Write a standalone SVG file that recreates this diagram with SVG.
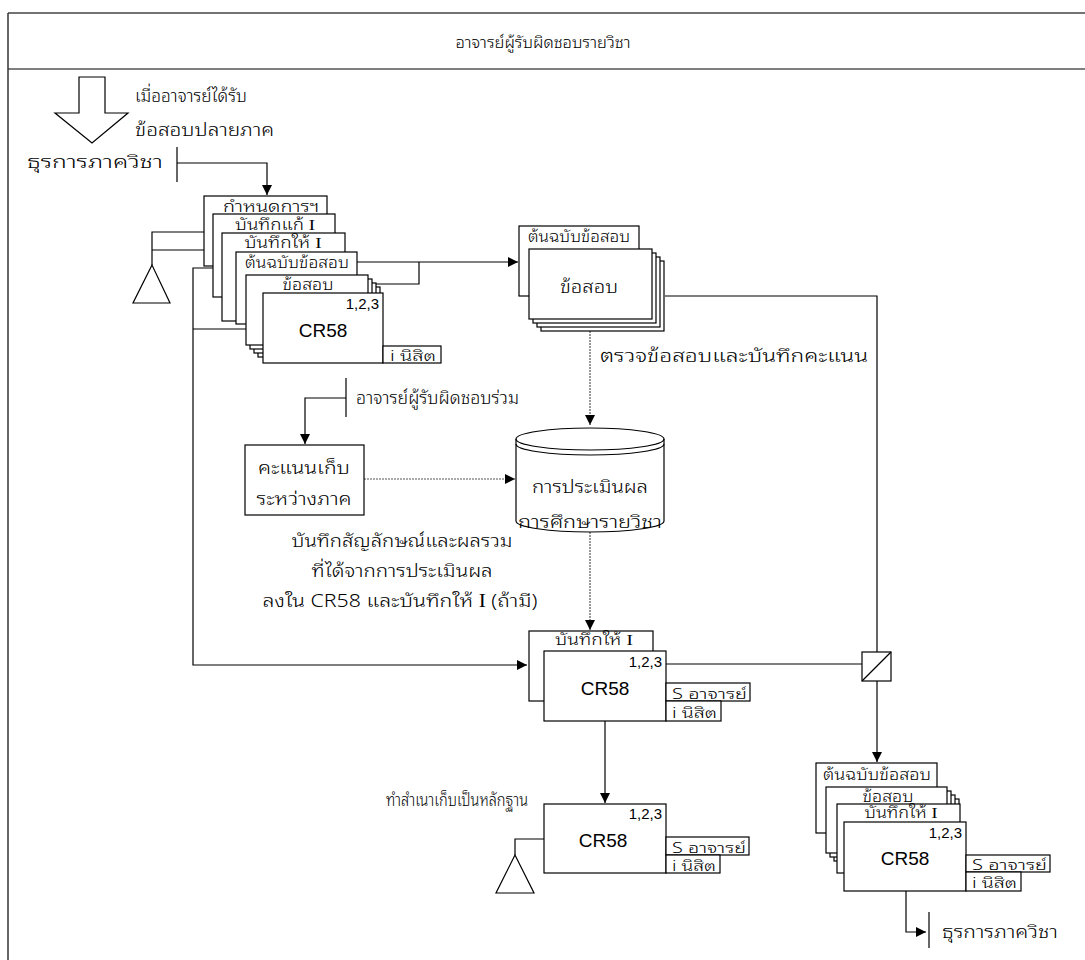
<svg xmlns="http://www.w3.org/2000/svg" width="1085" height="960" viewBox="0 0 1085 960">
<style>
text{font-family:"Noto Sans Thai Looped","Noto Sans Thai","Liberation Sans","DejaVu Sans",sans-serif;fill:#000;font-weight:300}
.t{font-size:16px}
.s{font-size:15px}
.n{font-size:14px}
.c{font-size:18px}
.m{text-anchor:middle}
.e{text-anchor:end}
.L{font-family:"Liberation Sans",Arial,sans-serif;font-weight:400}
.d{fill:#fff;stroke:#000;stroke-width:1.2}
.l{fill:none;stroke:#000;stroke-width:1.2}
.g{fill:none;stroke:#555;stroke-width:1.2;stroke-dasharray:2,1}
.i{font-family:"Liberation Serif",serif}
</style>
<defs>
<marker id="ah" viewBox="0 0 10 10" refX="10" refY="5" markerWidth="10" markerHeight="10" markerUnits="userSpaceOnUse" orient="auto"><path d="M0,0 L10,5 L0,10 Z" fill="#000"/></marker>
</defs>
<rect width="1085" height="960" fill="#fff"/>
<g id="frame">
<line x1="8" y1="13" x2="1085" y2="13" stroke="#444" stroke-width="1.5"/>
<line x1="8" y1="69" x2="1085" y2="69" stroke="#555" stroke-width="1.5"/>
<line x1="8" y1="13" x2="8" y2="960" stroke="#333" stroke-width="1.5"/>
<text class="t m" x="543" y="48" textLength="175" lengthAdjust="spacingAndGlyphs">อาจารย์ผู้รับผิดชอบรายวิชา</text>
</g>
<g id="connectors">
<polygon class="d" points="79,77 105,77 105,113 128,113 92,143 55,113 79,113"/>
<path class="l" d="M177,147 V182 M177,163 H267 V195" marker-end="url(#ah)"/>
<path class="l" d="M204,232 H152 V265 M213,250 H152"/>
<path class="l" d="M213,268 H193 V665 H527" marker-end="url(#ah)"/>
<path class="l" d="M193,329 H263"/>
<path class="l" d="M357,262 H518" marker-end="url(#ah)"/>
<path class="l" d="M373,284 H419 V262"/>
<path class="l" d="M665,296 H877 V652"/>
<path class="g" d="M590,331 V425" marker-end="url(#ah)"/>
<path class="l" d="M346,378 V417 M346,398 H305 V444" marker-end="url(#ah)"/>
<path class="g" d="M364,479 H515" marker-end="url(#ah)"/>
<path class="g" d="M590,532 V630" marker-end="url(#ah)"/>
<path class="l" d="M666,664 H862"/>
<path class="l" d="M877,681 V762" marker-end="url(#ah)"/>
<path class="l" d="M605,721 V803" marker-end="url(#ah)"/>
<path class="l" d="M544,839 H515 V855"/>
<path class="l" d="M906,891 V932 H926" marker-end="url(#ah)"/>
<path class="l" d="M929,912 V948"/>
</g>
<g id="source-labels">
<text class="c" x="135" y="102" textLength="112" lengthAdjust="spacingAndGlyphs">เมื่ออาจารย์ได้รับ</text>
<text class="c" x="135" y="136" textLength="139" lengthAdjust="spacingAndGlyphs">ข้อสอบปลายภาค</text>
<text class="c" x="27" y="168" textLength="136" lengthAdjust="spacingAndGlyphs">ธุรการภาควิชา</text>
<text class="c" x="356" y="404" textLength="163" lengthAdjust="spacingAndGlyphs">อาจารย์ผู้รับผิดชอบร่วม</text>
<text class="c" x="600" y="362" textLength="268" lengthAdjust="spacingAndGlyphs">ตรวจข้อสอบและบันทึกคะแนน</text>
<text class="c m" x="402" y="547" textLength="221" lengthAdjust="spacingAndGlyphs">บันทึกสัญลักษณ์และผลรวม</text>
<text class="c m" x="402" y="577" textLength="181" lengthAdjust="spacingAndGlyphs">ที่ได้จากการประเมินผล</text>
<text class="c m" x="400" y="607" textLength="275" lengthAdjust="spacingAndGlyphs">ลงใน CR58 และบันทึกให้ <tspan class="i">I</tspan> (ถ้ามี)</text>
<text class="c" x="386" y="806" textLength="142" lengthAdjust="spacingAndGlyphs">ทำสำเนาเก็บเป็นหลักฐาน</text>
<text class="c" x="942" y="938" textLength="116" lengthAdjust="spacingAndGlyphs">ธุรการภาควิชา</text>
</g>
<g id="archive-top">
<polygon class="d" points="152,265 133,303 170,303"/>
</g>
<g id="stack-top-left">
<rect class="d" x="204" y="196" width="123" height="70"/>
<text class="s m" x="271" y="212" textLength="96" lengthAdjust="spacingAndGlyphs">กำหนดการฯ</text>
<rect class="d" x="213" y="214" width="122" height="83"/>
<text class="s m" x="275" y="230" textLength="80" lengthAdjust="spacingAndGlyphs">บันทึกแก้ <tspan class="i">I</tspan></text>
<rect class="d" x="222" y="233" width="123" height="88"/>
<text class="s m" x="283" y="248" textLength="77" lengthAdjust="spacingAndGlyphs">บันทึกให้ <tspan class="i">I</tspan></text>
<rect class="d" x="236" y="252" width="121" height="72"/>
<text class="s m" x="297" y="268" textLength="104" lengthAdjust="spacingAndGlyphs">ต้นฉบับข้อสอบ</text>
<rect class="d" x="258" y="287" width="122" height="70"/>
<rect class="d" x="254" y="283" width="122" height="70"/>
<rect class="d" x="250" y="279" width="122" height="70"/>
<rect class="d" x="246" y="275" width="122" height="70"/>
<text class="s m" x="308" y="290" textLength="51" lengthAdjust="spacingAndGlyphs">ข้อสอบ</text>
<rect class="d" x="263" y="293" width="120" height="70"/>
<text class="L e" x="379" y="309" font-size="15">1,2,3</text>
<text class="L m" x="323" y="337" font-size="19">CR58</text>
<rect class="d" x="383" y="346" width="58" height="17"/>
<text class="n" x="390" y="361" textLength="46" lengthAdjust="spacingAndGlyphs">i นิสิต</text>
</g>
<g id="stack-top-right">
<rect class="d" x="519" y="226" width="120" height="70"/>
<text class="s m" x="579" y="242" textLength="102" lengthAdjust="spacingAndGlyphs">ต้นฉบับข้อสอบ</text>
<rect class="d" x="541" y="261" width="123" height="70"/>
<rect class="d" x="537" y="257" width="123" height="70"/>
<rect class="d" x="533" y="253" width="123" height="70"/>
<rect class="d" x="529" y="249" width="123" height="70"/>
<text class="c m" x="589" y="293" textLength="58" lengthAdjust="spacingAndGlyphs">ข้อสอบ</text>
</g>
<g id="score-box">
<rect class="d" x="245" y="445" width="119" height="70"/>
<text class="c m" x="304" y="474" textLength="92" lengthAdjust="spacingAndGlyphs">คะแนนเก็บ</text>
<text class="c m" x="304" y="505" textLength="95" lengthAdjust="spacingAndGlyphs">ระหว่างภาค</text>
</g>
<g id="datastore">
<path class="d" d="M516,439 A74,11 0 0 1 664,439 V521 A74,11 0 0 1 516,521 Z"/>
<path class="l" d="M516,439 A74,11 0 0 0 664,439 M516,444 A74,11 0 0 0 664,444"/>
<text class="c m" x="590" y="493" textLength="116" lengthAdjust="spacingAndGlyphs">การประเมินผล</text>
<text class="c m" x="590" y="528" textLength="144" lengthAdjust="spacingAndGlyphs">การศึกษารายวิชา</text>
</g>
<g id="stack-middle">
<rect class="d" x="529" y="631" width="124" height="70"/>
<text class="s m" x="594" y="645" textLength="78" lengthAdjust="spacingAndGlyphs">บันทึกให้ <tspan class="i">I</tspan></text>
<rect class="d" x="544" y="651" width="122" height="70"/>
<text class="L e" x="662" y="667" font-size="15">1,2,3</text>
<text class="L m" x="605" y="695" font-size="19">CR58</text>
<rect class="d" x="666" y="683" width="84" height="18"/>
<text class="n" x="672" y="699" textLength="75" lengthAdjust="spacingAndGlyphs">S อาจารย์</text>
<rect class="d" x="666" y="701" width="55" height="20"/>
<text class="n" x="672" y="718" textLength="45" lengthAdjust="spacingAndGlyphs">i นิสิต</text>
</g>
<g id="switch">
<rect class="d" x="862" y="652" width="29" height="29"/>
<line x1="862" y1="681" x2="891" y2="652" stroke="#000" stroke-width="1.2"/>
</g>
<g id="copy-bottom">
<polygon class="d" points="515,855 496,893 534,893"/>
<rect class="d" x="544" y="804" width="122" height="69"/>
<text class="L e" x="662" y="819" font-size="15">1,2,3</text>
<text class="L m" x="603" y="847" font-size="19">CR58</text>
<rect class="d" x="666" y="837" width="83" height="18"/>
<text class="n" x="672" y="853" textLength="74" lengthAdjust="spacingAndGlyphs">S อาจารย์</text>
<rect class="d" x="666" y="855" width="54" height="18"/>
<text class="n" x="672" y="871" textLength="44" lengthAdjust="spacingAndGlyphs">i นิสิต</text>
</g>
<g id="stack-bottom-right">
<rect class="d" x="816" y="763" width="121" height="70"/>
<text class="s m" x="877" y="780" textLength="108" lengthAdjust="spacingAndGlyphs">ต้นฉบับข้อสอบ</text>
<rect class="d" x="838" y="799" width="121" height="66"/>
<rect class="d" x="834" y="795" width="121" height="66"/>
<rect class="d" x="830" y="791" width="121" height="66"/>
<rect class="d" x="826" y="787" width="121" height="66"/>
<text class="s m" x="888" y="802" textLength="51" lengthAdjust="spacingAndGlyphs">ข้อสอบ</text>
<rect class="d" x="837" y="804" width="123" height="69"/>
<text class="s m" x="901" y="818" textLength="73" lengthAdjust="spacingAndGlyphs">บันทึกให้ <tspan class="i">I</tspan></text>
<rect class="d" x="844" y="822" width="122" height="69"/>
<text class="L e" x="962" y="838" font-size="15">1,2,3</text>
<text class="L m" x="905" y="865" font-size="19">CR58</text>
<rect class="d" x="966" y="855" width="84" height="17"/>
<text class="n" x="972" y="870" textLength="75" lengthAdjust="spacingAndGlyphs">S อาจารย์</text>
<rect class="d" x="966" y="872" width="55" height="19"/>
<text class="n" x="972" y="888" textLength="45" lengthAdjust="spacingAndGlyphs">i นิสิต</text>
</g>
</svg>
